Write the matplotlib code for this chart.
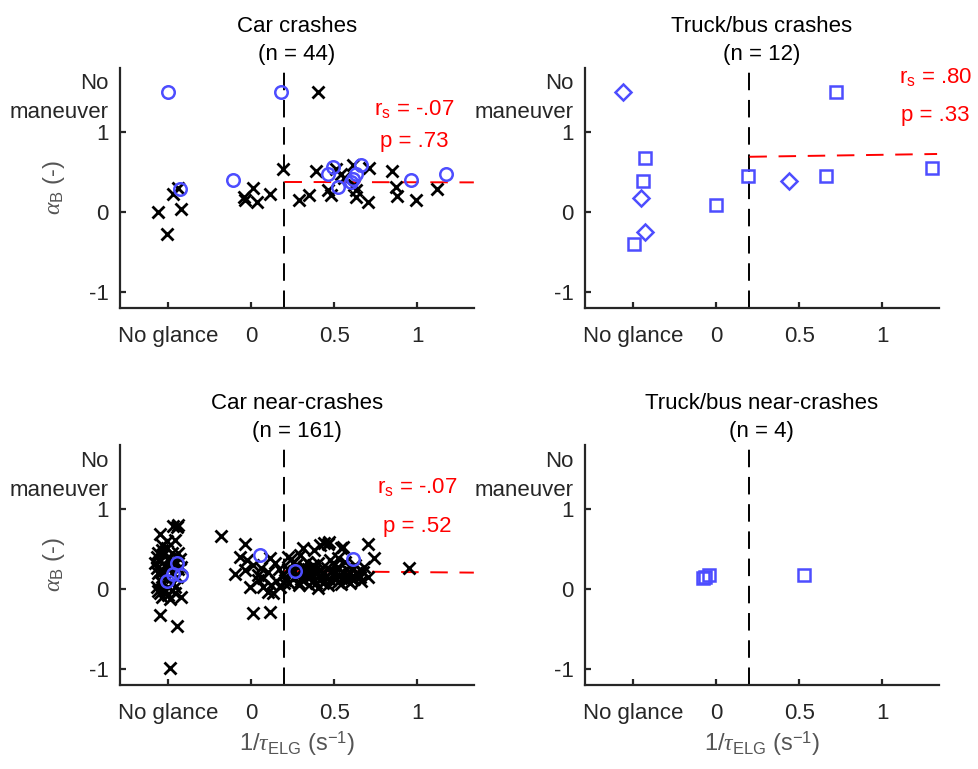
import numpy as np
import matplotlib.pyplot as plt

plt.rcParams['font.family'] = ['Liberation Sans', 'DejaVu Sans']
plt.rcParams['mathtext.fontset'] = 'custom'
plt.rcParams['mathtext.rm'] = 'Liberation Sans'
plt.rcParams['mathtext.it'] = 'Liberation Serif:italic'
plt.rcParams['axes.unicode_minus'] = False

BLUE = '#4d4dff'
INK = '#262626'
NO_GLANCE = -0.5
NO_MANEUVER = 1.5
THRESH = 0.2

# ---- Car crashes (n = 44) ----
cc_x_black = [0.40, -0.56, -0.51, -0.47, -0.44, -0.425, -0.046, -0.04, 0.01, 0.035, 0.11,
              0.19, 0.29, 0.35, 0.39, 0.46, 0.48, 0.51, 0.54, 0.56, 0.61, 0.62, 0.63,
              0.63, 0.70, 0.71, 0.85, 0.87, 0.88, 0.99, 1.12]
cc_y_black = [1.5, 0.0, -0.28, 0.23, 0.30, 0.04, 0.19, 0.155, 0.30, 0.13, 0.23,
              0.54, 0.15, 0.21, 0.51, 0.27, 0.21, 0.54, 0.47, 0.43, 0.59, 0.34, 0.28,
              0.19, 0.13, 0.55, 0.51, 0.31, 0.20, 0.155, 0.29]
cc_x_blue = [-0.50, 0.177, -0.43, -0.11, 0.49, 0.46, 0.52, 0.61, 0.63, 0.66, 0.96, 1.17, 0.60]
cc_y_blue = [1.5, 1.5, 0.29, 0.40, 0.56, 0.47, 0.31, 0.41, 0.47, 0.59, 0.40, 0.47, 0.38]
cc_fit_x = [0.2, 1.34]
cc_fit_y = [0.375, 0.37]

# ---- Truck/bus crashes (n = 12) ----
tc_x_sq = [-0.43, -0.44, -0.495, 0.0, 0.19, 0.66, 0.72, 1.30]
tc_y_sq = [0.67, 0.39, -0.40, 0.09, 0.445, 0.445, 1.5, 0.555]
tc_x_dia = [-0.56, -0.45, -0.43, 0.44]
tc_y_dia = [1.5, 0.17, -0.25, 0.39]
tc_fit_x = [0.2, 1.33]
tc_fit_y = [0.69, 0.725]

# ---- Car near-crashes (n = 161) ----
cn_x_black = [
    # no glance
    -0.55, -0.47, -0.44, -0.45, -0.46, -0.57, -0.54, -0.51, -0.48, -0.43, -0.42, -0.57,
    -0.54, -0.53, -0.56, -0.54, -0.49, -0.42, -0.46, -0.55, -0.45, -0.49,
    -0.56, -0.55, -0.53, -0.52, -0.50, -0.49, -0.47, -0.56, -0.55, -0.53, -0.51, -0.50,
    -0.48, -0.47, -0.45, -0.44, -0.57, -0.55, -0.52, -0.50, -0.46, -0.44, -0.54, -0.51,
    -0.48, -0.58,
    # short glances
    -0.18, -0.035, -0.07, -0.025, -0.10, -0.035, 0.01, -0.005, 0.04, 0.07, 0.11, 0.145,
    0.07, 0.10, 0.13, 0.175, 0.19, 0.01, 0.11, 0.04, 0.10, 0.15, 0.17, 0.06, 0.12, 0.195,
    # long glances
    0.31, 0.415, 0.46, 0.55, 0.70, 0.74, 0.675, 0.70, 0.22, 0.25, 0.295, 0.335, 0.375,
    0.40, 0.475, 0.52, 0.565, 0.625, 0.415, 0.455, 0.505, 0.555, 0.595, 0.64, 0.335,
    0.375, 0.43, 0.475, 0.525, 0.575, 0.655, 0.255, 0.285, 0.235, 0.315, 0.355, 0.205,
    0.415, 0.40, 0.595, 0.95, 0.44, 0.47, 0.54, 0.24, 0.32,
    0.22, 0.26, 0.28, 0.30, 0.32, 0.34, 0.36, 0.38, 0.39, 0.42, 0.44, 0.45, 0.46, 0.48,
    0.49, 0.51, 0.52, 0.53, 0.54, 0.56, 0.57, 0.58, 0.60, 0.61, 0.62, 0.63, 0.66, 0.68,
    0.27, 0.29, 0.35, 0.37, 0.50, 0.23]
cn_y_black = [
    0.69, 0.79, 0.80, 0.77, 0.61, 0.40, 0.49, 0.51, 0.45, 0.38, 0.28, 0.26,
    0.15, 0.07, -0.03, -0.10, -0.13, -0.10, 0.03, -0.32, -0.46, -0.99,
    0.45, 0.35, 0.42, 0.30, 0.38, 0.27, 0.35, 0.20, 0.10, 0.22, 0.12, 0.02,
    0.20, 0.08, 0.15, 0.25, 0.02, -0.05, -0.02, -0.08, -0.05, 0.45, 0.55, 0.60,
    0.30, 0.33,
    0.66, 0.56, 0.40, 0.36, 0.19, 0.24, 0.30, 0.03, 0.175, 0.14, 0.39, 0.32,
    0.02, -0.04, -0.05, 0.02, 0.17, -0.30, -0.29, 0.11, 0.21, 0.10, 0.25, 0.26, 0.05, 0.08,
    0.51, 0.55, 0.56, 0.52, 0.56, 0.39, 0.21, 0.15, 0.40, 0.32, 0.42, 0.34, 0.49,
    0.32, 0.36, 0.39, 0.34, 0.30, 0.24, 0.26, 0.21, 0.20, 0.21, 0.175, 0.15,
    0.11, 0.075, 0.11, 0.09, 0.11, 0.15, 0.15, 0.075, 0.21, 0.24, 0.21, 0.11,
    0.175, 0.01, 0.075, 0.26, 0.57, 0.59, 0.51, 0.38, 0.28,
    0.25, 0.22, 0.18, 0.12, 0.20, 0.25, 0.16, 0.22, 0.08, 0.12, 0.20, 0.15, 0.05, 0.22,
    0.17, 0.13, 0.27, 0.17, 0.06, 0.14, 0.25, 0.18, 0.14, 0.26, 0.12, 0.20, 0.10, 0.28,
    0.30, 0.05, 0.05, 0.30, 0.30, 0.08]
cn_x_blue = [-0.51, -0.47, -0.45, -0.42, 0.054, 0.266, 0.61]
cn_y_blue = [0.10, 0.19, 0.32, 0.18, 0.425, 0.23, 0.38]
cn_fit_x = [0.2, 1.34]
cn_fit_y = [0.225, 0.205]

# ---- Truck/bus near-crashes (n = 4) ----
tn_x_sq = [-0.077, -0.044, -0.07, 0.53]
tn_y_sq = [0.14, 0.18, 0.15, 0.18]


def style(ax, title, xlabel=False, ylabel=False):
    ax.set_xlim(-0.79, 1.34)
    ax.set_ylim(-1.2, 1.8)
    ax.spines['top'].set_visible(False)
    ax.spines['right'].set_visible(False)
    for s in ['left', 'bottom']:
        ax.spines[s].set_linewidth(1.6)
        ax.spines[s].set_color(INK)
    ax.set_xticks([NO_GLANCE, 0, 0.5, 1])
    ax.set_xticklabels(['No glance', '0', '0.5', '1'])
    ax.set_yticks([-1, 0, 1, NO_MANEUVER])
    ax.set_yticklabels(['-1', '0', '1', 'No\nmaneuver'])
    ax.yaxis.get_major_ticks()[-1].tick1line.set_visible(False)
    for lbl in ax.get_yticklabels():
        lbl.set_linespacing(1.5)
    ax.tick_params(direction='in', length=4, width=1.6, color=INK, labelsize=16,
                   labelcolor=INK)
    ax.tick_params(axis='y', pad=8)
    ax.tick_params(axis='x', pad=13)
    ax.axvline(THRESH, color='k', lw=1.4, ls=(0, (9, 5)), zorder=1)
    ax.set_title(title, fontsize=16, linespacing=1.4, pad=6, color='k')
    if ylabel:
        ax.set_ylabel(r'$\alpha_\mathrm{B}$ (-)', fontsize=17, color='#555555')
        ax.yaxis.set_label_coords(-0.15, 0.5)
    if xlabel:
        ax.set_xlabel(r'1/$\tau_\mathrm{ELG}$ (s$^\mathrm{-1}$)', fontsize=17,
                      color='#555555', labelpad=4)


def stats(ax, x, y1, y2, rs, p):
    ax.text(x, y1, r'r$_\mathrm{s}$ = ' + rs, color='red', fontsize=16,
            ha='center', va='center', clip_on=False)
    ax.text(x, y2, 'p = ' + p, color='red', fontsize=16,
            ha='center', va='center', clip_on=False)


fig = plt.figure(figsize=(9.79, 7.69), dpi=100)
ax1 = fig.add_axes([0.1226, 0.5995, 0.3614, 0.3121])
ax2 = fig.add_axes([0.5975, 0.5995, 0.3614, 0.3121])
ax3 = fig.add_axes([0.1226, 0.1092, 0.3614, 0.3121])
ax4 = fig.add_axes([0.5975, 0.1092, 0.3614, 0.3121])

mk = dict(ls='none', clip_on=False)

# car crashes
ax1.plot(cc_fit_x, cc_fit_y, color='red', lw=1.4, ls=(0, (9, 6)))
ax1.plot(cc_x_black, cc_y_black, marker='x', color='k', ms=8, mew=2, **mk)
ax1.plot(cc_x_blue, cc_y_blue, marker='o', color=BLUE, mfc='none', ms=9, mew=1.8, **mk)
stats(ax1, 0.98, 1.29, 0.875, '-.07', '.73')
style(ax1, 'Car crashes\n(n = 44)', ylabel=True)

# truck/bus crashes
ax2.plot(tc_fit_x, tc_fit_y, color='red', lw=1.4, ls=(0, (9, 6)))
ax2.plot(tc_x_sq, tc_y_sq, marker='s', color=BLUE, mfc='none', ms=8, mew=1.8, **mk)
ax2.plot(tc_x_dia, tc_y_dia, marker='D', color=BLUE, mfc='none', ms=8, mew=1.8, **mk)
stats(ax2, 1.32, 1.69, 1.21, '.80', '.33')
style(ax2, 'Truck/bus crashes\n(n = 12)')

# car near-crashes
ax3.plot(cn_fit_x, cn_fit_y, color='red', lw=1.4, ls=(0, (9, 6)))
ax3.plot(cn_x_black, cn_y_black, marker='x', color='k', ms=8, mew=2, **mk)
ax3.plot(cn_x_blue, cn_y_blue, marker='o', color=BLUE, mfc='none', ms=9, mew=1.8, **mk)
stats(ax3, 1.0, 1.27, 0.78, '-.07', '.52')
style(ax3, 'Car near-crashes\n(n = 161)', xlabel=True, ylabel=True)

# truck/bus near-crashes
ax4.plot(tn_x_sq, tn_y_sq, marker='s', color=BLUE, mfc='none', ms=8, mew=1.8, **mk)
style(ax4, 'Truck/bus near-crashes\n(n = 4)', xlabel=True)

fig.savefig('out.png', dpi=100)
